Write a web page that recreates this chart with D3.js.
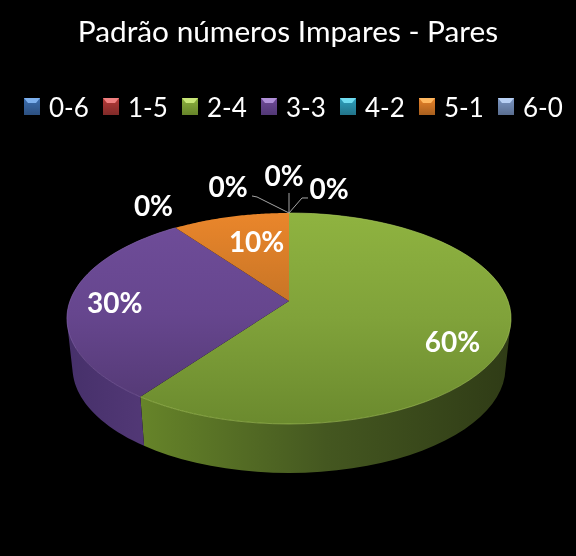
<!DOCTYPE html>
<html>
<head>
<meta charset="utf-8">
<script src="https://cdn.jsdelivr.net/npm/d3@7"></script>
<style>
  html, body { margin: 0; padding: 0; background: #000; }
  text { font-family: Lato, "Open Sans", sans-serif; fill: #fff; }
</style>
</head>
<body>
<div id="chart"></div>
<script>
const titleText = "Padrão números Impares - Pares";
const categories = ["0-6", "1-5", "2-4", "3-3", "4-2", "5-1", "6-0"];
const values = [0, 0, 60, 30, 0, 10, 0];
const colors = ["#3c6eb0", "#b53a38", "#8cb03f", "#6f4a97", "#2e9fbd", "#e8832a", "#7c97c4"];
const lightColors = ["#7db0ee", "#f08080", "#c8e678", "#b090d8", "#70dcf0", "#ffb860", "#b8d0f4"];
const sideColors = ["#2c5080", "#802a28", "#668429", "#523876", "#22748a", "#a85f1e", "#5a6e90"];
const sideDark = ["#1c3250", "#501a18", "#2f3b16", "#46306a", "#164a58", "#6a3c14", "#38465c"];
// label offset from the slice anchor [dx, dy]
const labelOffsets = [[-5, -38], [40, -25], [1, 15], [-10, 1], [-22, -23], [13, 5], [-61, -27]];
// leader line bends, relative to the anchor (null = no leader)
const leaderBends = [[[0, -20]], [[13, -15], [19, -15]], null, null, null, null, [[-32, -16], [-37, -17]]];

const width = 576;
const height = 556;
const svg = d3.select("#chart").append("svg")
  .attr("width", width)
  .attr("height", height)
  .style("display", "block")
  .style("filter", "blur(0.4px)");

const defs = svg.append("defs");

// tilted pie: perspective projection of the unit circle to the screen
const cx = 289, cy = 301, rA = 219, rB = 102.6, k = 0.1656, depth = 49;
function project(theta, f, down) {
  const w = 1 + k * f * Math.cos(theta);
  const shrink = down ? 0.975 : 1;
  return [
    cx + shrink * rA * f * Math.sin(theta) / w,
    cy - rB * f * Math.cos(theta) / w + (down ? depth : 0)
  ];
}

const pie = d3.pie().sort(null).value(d => d.value);
const arcs = pie(categories.map((c, i) => ({ name: c, value: values[i], i })));
const line = d3.line();

function rimPoints(a0, a1, down) {
  return d3.range(0, 61).map(j => project(a0 + (a1 - a0) * j / 60, 1, down));
}

function vGrad(id, stops, y1, y2) {
  const g = defs.append("linearGradient").attr("id", id)
    .attr("gradientUnits", "userSpaceOnUse")
    .attr("x1", 0).attr("x2", 0).attr("y1", y1).attr("y2", y2);
  stops.forEach(s => g.append("stop").attr("offset", s[0]).attr("stop-color", s[1]));
}

function hGrad(id, stops, x1, x2) {
  const g = defs.append("linearGradient").attr("id", id)
    .attr("gradientUnits", "userSpaceOnUse")
    .attr("x1", x1).attr("x2", x2).attr("y1", 0).attr("y2", 0);
  stops.forEach(s => g.append("stop").attr("offset", s[0]).attr("stop-color", s[1]));
}

hGrad("wall-2", [[0, sideColors[2]], [0.5, "#445720"], [1, sideDark[2]]], 142, 511);
hGrad("wall-3", [[0, sideDark[3]], [1, sideColors[3]]], 67, 145);

// walls: all rim steps in one path, same winding, so the outline stays closed at the turning points
function wallPath(d) {
  const up = rimPoints(d.startAngle, d.endAngle, false);
  const low = rimPoints(d.startAngle, d.endAngle, true);
  return d3.range(0, 60)
    .map(j => {
      const quad = [up[j], up[j + 1], low[j + 1], low[j]];
      if (d3.polygonArea(quad) < 0) quad.reverse();
      return line(quad) + "Z";
    })
    .join("");
}

svg.append("g").selectAll("path")
  .data(arcs.filter(d => d.value > 0 && d.data.i !== 5))
  .join("path")
  .attr("d", wallPath)
  .attr("fill", d => `url(#wall-${d.data.i})`);

// top faces
vGrad("top-2", [[0, "#8fb340"], [0.5, "#80a23a"], [1, "#6b8a2e"]], 213, 424);
vGrad("top-3", [[0, "#6e4c98"], [0.5, "#66468e"], [1, "#553a76"]], 228, 400);
vGrad("top-5", [[0, "#ea862b"], [1, "#c87526"]], 213, 301);

svg.append("g").selectAll("path")
  .data(arcs.filter(d => d.value > 0))
  .join("path")
  .attr("d", d => line([[cx, cy]].concat(rimPoints(d.startAngle, d.endAngle, false))) + "Z")
  .attr("fill", d => `url(#top-${d.data.i})`);

// light rim along the front of the top face
svg.append("g").selectAll("path")
  .data(arcs.filter(d => d.data.i === 2 || d.data.i === 3))
  .join("path")
  .attr("d", d => line(rimPoints(d.startAngle, d.endAngle, false)))
  .attr("fill", "none")
  .attr("stroke", d => d.data.i === 2 ? "#a9c85c" : "#8263a8")
  .attr("stroke-width", 1)
  .attr("stroke-opacity", 0.6);

// leaders
const labelAnchor = d => {
  const mid = (d.startAngle + d.endAngle) / 2;
  return project(mid, d.value > 0 ? 0.75 : 1, false);
};
svg.append("g").selectAll("path")
  .data(arcs.filter(d => leaderBends[d.data.i]))
  .join("path")
  .attr("d", d => {
    const a = labelAnchor(d);
    return line([a].concat(leaderBends[d.data.i].map(b => [a[0] + b[0], a[1] + b[1]])));
  })
  .attr("fill", "none")
  .attr("stroke", "#a6a6a6")
  .attr("stroke-width", 1);

// data labels
svg.append("g").selectAll("text")
  .data(arcs)
  .join("text")
  .attr("x", d => labelAnchor(d)[0] + labelOffsets[d.data.i][0])
  .attr("y", d => labelAnchor(d)[1] + labelOffsets[d.data.i][1])
  .attr("text-anchor", "middle")
  .attr("dominant-baseline", "central")
  .style("font-size", "28px")
  .style("font-weight", 700)
  .text(d => `${d.value}%`);

// title
svg.append("text")
  .attr("x", 288)
  .attr("y", 30)
  .attr("text-anchor", "middle")
  .attr("dominant-baseline", "central")
  .style("font-size", "29.8px")
  .text(titleText);

// legend
const legendX = d3.scalePoint().domain(categories).range([24, 498]);
const legend = svg.append("g").selectAll("g")
  .data(categories)
  .join("g")
  .attr("transform", d => `translate(${legendX(d)},98)`);

categories.forEach((c, i) => vGrad(`key-${i}`, [[0, colors[i]], [1, sideColors[i]]], 0, 17));

legend.append("rect")
  .attr("width", 16)
  .attr("height", 17)
  .attr("fill", (d, i) => `url(#key-${i})`);

legend.append("path")
  .attr("d", "M0,0H16L12,5H4Z")
  .attr("fill", (d, i) => lightColors[i]);

legend.append("text")
  .attr("x", 25)
  .attr("y", 8.5)
  .attr("dominant-baseline", "central")
  .style("font-size", "26px")
  .text(d => d);
</script>
</body>
</html>
